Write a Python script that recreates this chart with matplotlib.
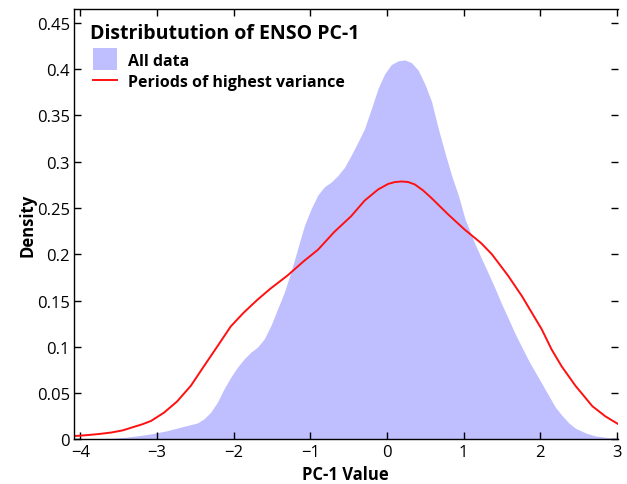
import matplotlib
matplotlib.use("Agg")
import matplotlib.pyplot as plt
from matplotlib.patches import Patch, Rectangle
from matplotlib.lines import Line2D
from matplotlib.legend_handler import HandlerPatch

# Density curves
all_x = [-4.08, -3.8, -3.6, -3.4, -3.25, -3.088, -2.869, -2.651, -2.476, -2.389,
         -2.301, -2.214, -2.127, -2.039, -1.952, -1.864, -1.777, -1.690, -1.602, -1.515,
         -1.428, -1.340, -1.253, -1.166, -1.078, -0.991, -0.903, -0.816, -0.729, -0.642,
         -0.554, -0.467, -0.380, -0.292, -0.205, -0.117, -0.030, 0.057, 0.145, 0.232,
         0.320, 0.407, 0.494, 0.582, 0.669, 0.756, 0.844, 0.931, 1.019, 1.150,
         1.237, 1.325, 1.412, 1.499, 1.587, 1.674, 1.761, 1.849, 1.936, 2.024,
         2.111, 2.198, 2.286, 2.373, 2.460, 2.592, 2.722, 2.897, 3.02]
all_y = [0.0005, 0.0008, 0.0012, 0.0025, 0.004, 0.0059, 0.0095, 0.0142, 0.0178, 0.0222,
         0.0294, 0.0402, 0.0546, 0.0672, 0.078, 0.087, 0.0943, 0.0997, 0.1086, 0.123,
         0.141, 0.159, 0.181, 0.206, 0.231, 0.249, 0.264, 0.273, 0.278, 0.285,
         0.294, 0.307, 0.321, 0.336, 0.357, 0.379, 0.395, 0.405, 0.409, 0.410,
         0.407, 0.399, 0.384, 0.365, 0.336, 0.310, 0.285, 0.264, 0.238, 0.211,
         0.195, 0.179, 0.163, 0.146, 0.130, 0.114, 0.0996, 0.0852, 0.0726, 0.060,
         0.0474, 0.0348, 0.0258, 0.0179, 0.0121, 0.0071, 0.0038, 0.002, 0.0013]

var_x = [-4.08, -3.9, -3.75, -3.6, -3.45, -3.3, -3.19, -3.08, -2.91, -2.74,
         -2.56, -2.39, -2.21, -2.04, -1.87, -1.69, -1.52, -1.30, -1.08, -0.90,
         -0.69, -0.47, -0.292, -0.117, 0.014, 0.101, 0.188, 0.276, 0.363, 0.472,
         0.582, 0.80, 1.01, 1.23, 1.37, 1.58, 1.76, 1.89, 2.02, 2.15,
         2.28, 2.46, 2.68, 2.85, 3.01]
var_y = [0.0037, 0.0048, 0.006, 0.0075, 0.0098, 0.0137, 0.0165, 0.020, 0.029, 0.041,
         0.058, 0.079, 0.101, 0.122, 0.137, 0.151, 0.163, 0.177, 0.193, 0.205,
         0.224, 0.241, 0.258, 0.270, 0.276, 0.278, 0.2787, 0.2781, 0.2755, 0.269,
         0.2607, 0.243, 0.227, 0.212, 0.200, 0.177, 0.155, 0.137, 0.119, 0.097,
         0.079, 0.058, 0.036, 0.025, 0.017]

x_ticks = [-4, -3, -2, -1, 0, 1, 2, 3]
y_ticks = [0, 0.05, 0.1, 0.15, 0.2, 0.25, 0.3, 0.35, 0.4, 0.45]

plt.rcParams['font.family'] = ['Open Sans', 'DejaVu Sans']

fill_color = '#bfbfff'
line_color = '#ff1010'

fig = plt.figure(figsize=(6.27, 4.85), dpi=100)
ax = fig.add_axes([0.118, 0.0918, 0.867, 0.8876])

ax.fill_between(all_x, all_y, 0, color=fill_color, linewidth=0)
ax.plot(var_x, var_y, color=line_color, linewidth=1.4)

ax.set_xlim(-4.085, 3.01)
ax.set_ylim(0, 0.465)
ax.set_xticks(x_ticks)
ax.set_yticks(y_ticks)
ax.set_yticklabels([f"{v:g}" for v in y_ticks])

ax.tick_params(direction='in', length=5, width=1, labelsize=12,
               top=True, right=True, pad=3)
for t in ax.yaxis.get_major_ticks():
    t.tick2line.set_color('#909090')
ax.spines['right'].set_visible(False)
for s in ['left', 'bottom', 'top']:
    ax.spines[s].set_linewidth(1.0)

ax.set_xlabel('PC-1 Value', fontsize=12, fontweight='bold', labelpad=4)
ax.set_ylabel('Density', fontsize=12, fontweight='bold', labelpad=0)

# legend title drawn as its own text so the spacing can follow the reference
ax.text(0.0294, 0.9326, 'Distributution of ENSO PC-1', transform=ax.transAxes,
        fontsize=14, fontweight='bold', va='baseline', ha='left')


def big_patch(legend, orig_handle, xdescent, ydescent, width, height, fontsize):
    cy = -ydescent + height / 2
    return Rectangle((-xdescent, cy - 7.9), 17.3, 15.8)


handles = [Patch(facecolor=fill_color, edgecolor='none'),
           Line2D([0], [0], color=line_color, linewidth=1.4)]
leg = ax.legend(handles, ['All data', 'Periods of highest variance'],
                loc='upper left', bbox_to_anchor=(0.035, 0.900),
                frameon=False, prop={'size': 11.5, 'weight': 'bold'},
                handlelength=1.5, handleheight=1.0,
                labelspacing=0.31, handletextpad=0.7,
                borderaxespad=0, borderpad=0,
                handler_map={Patch: HandlerPatch(patch_func=big_patch)})

fig.savefig('out.png', dpi=100)
